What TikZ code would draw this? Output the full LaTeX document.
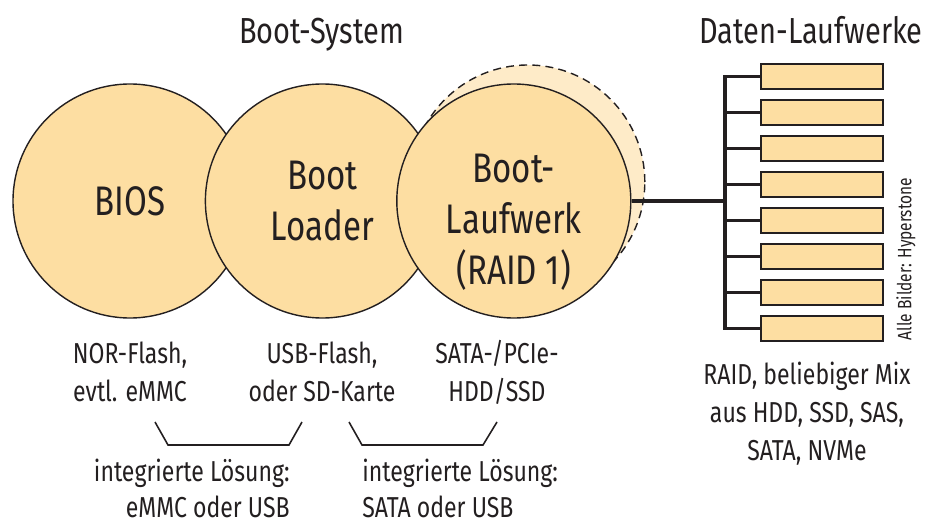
\documentclass[tikz,border=0pt]{standalone}
\usepackage{fontspec}
\setmainfont{Fira Sans}[FakeStretch=0.8]
\usetikzlibrary{positioning,calc,backgrounds}

\definecolor{diskfill}{HTML}{FDDEA2}
\definecolor{sparefill}{HTML}{FEEBC8}
\definecolor{ink}{HTML}{231F20}

\tikzset{
  stage/.style={draw=ink,circle,fill=diskfill,minimum size=4.68cm,inner sep=0pt,line width=0.8pt,align=center,font=\fontsize{23.5}{28.9}\selectfont},
  drive/.style={draw=ink,fill=diskfill,minimum width=2.44cm,minimum height=0.5cm,line width=1.1pt,outer sep=0pt,inner sep=0pt},
  note/.style={align=center,inner sep=0pt,font=\fontsize{16.4}{21.5}\selectfont},
  head/.style={inner sep=0pt,font=\fontsize{20.6}{24}\selectfont},
  bus/.style={draw=ink,line width=2pt},
}

\begin{document}
\begin{tikzpicture}[text=ink]
\useasboundingbox (0,0) rectangle (18.76,-10.48);
% boot chain
\node[stage] (bios) at (2.6,-4.02) {BIOS};
\node[stage,right=-0.86cm of bios] (loader) {Boot\\Loader};
\node[stage,right=-0.88cm of loader] (laufwerk) {};
\node[align=center,inner sep=0pt,font=\fontsize{23.5}{28.9}\selectfont] (lwtext) at ([yshift=-0.42cm]laufwerk.center) {Boot-\\Laufwerk\\(RAID 1)};
\begin{scope}[on background layer]
\node[stage,fill=sparefill,dash pattern=on 4.5pt off 3pt] (spare) at ([shift={(0.28,0.38)}]laufwerk.center) {};
\end{scope}
\node[head,anchor=base] (systitle) at (6.43,-0.88) {Boot-System};

% data drives
\node[head,anchor=base] (datatitle) at (16.22,-0.88) {Daten-Laufwerke};
\coordinate (bus) at (14.5,0);
\node[drive] (disk1) at (16.44,-1.53) {};
\foreach \i [count=\j from 2] in {1,...,7}
  \node[drive,below=0.22cm of disk\i] (disk\j) {};
\draw[bus] (disk1.west) -| (disk8.west -| bus) -- (disk8.west);
\foreach \i in {2,...,7}
  \draw[bus] (disk\i.west) -- (disk\i.west -| bus);
\draw[bus] (laufwerk.east) -- (laufwerk.east -| bus);
\node[rotate=90,inner sep=0pt,font=\fontsize{11}{13}\selectfont] (credit) at (18.12,-5.18) {Alle Bilder: Hyperstone};

% notes (base = last line)
\node[note,anchor=base] (norflash) at (2.6,-8.02) {NOR-Flash,\\evtl. eMMC};
\node[note,anchor=base] (usbflash) at (6.44,-8.02) {USB-Flash,\\oder SD-Karte};
\node[note,anchor=base] (satadisk) at (9.94,-8.02) {SATA-/PCIe-\\HDD/SSD};
\node[note,anchor=base] (raidmix) at (16.14,-9.2) {RAID, beliebiger Mix\\aus HDD, SSD, SAS,\\SATA, NVMe};
\draw[draw=ink,line width=0.9pt] (3.1,-8.44) -- (3.36,-8.9) -- (5.78,-8.9) -- (6.04,-8.44);
\draw[draw=ink,line width=0.9pt] (6.98,-8.44) -- (7.24,-8.9) -- (9.66,-8.9) -- (9.94,-8.44);
\node[note,align=right,anchor=base east,font=\fontsize{16.4}{20}\selectfont] (integ1) at (5.8,-10.34) {integrierte Lösung:\\eMMC oder USB};
\node[note,align=left,anchor=base west,font=\fontsize{16.4}{20}\selectfont] (integ2) at (7.24,-10.34) {integrierte Lösung:\\SATA oder USB};
\end{tikzpicture}
\end{document}
